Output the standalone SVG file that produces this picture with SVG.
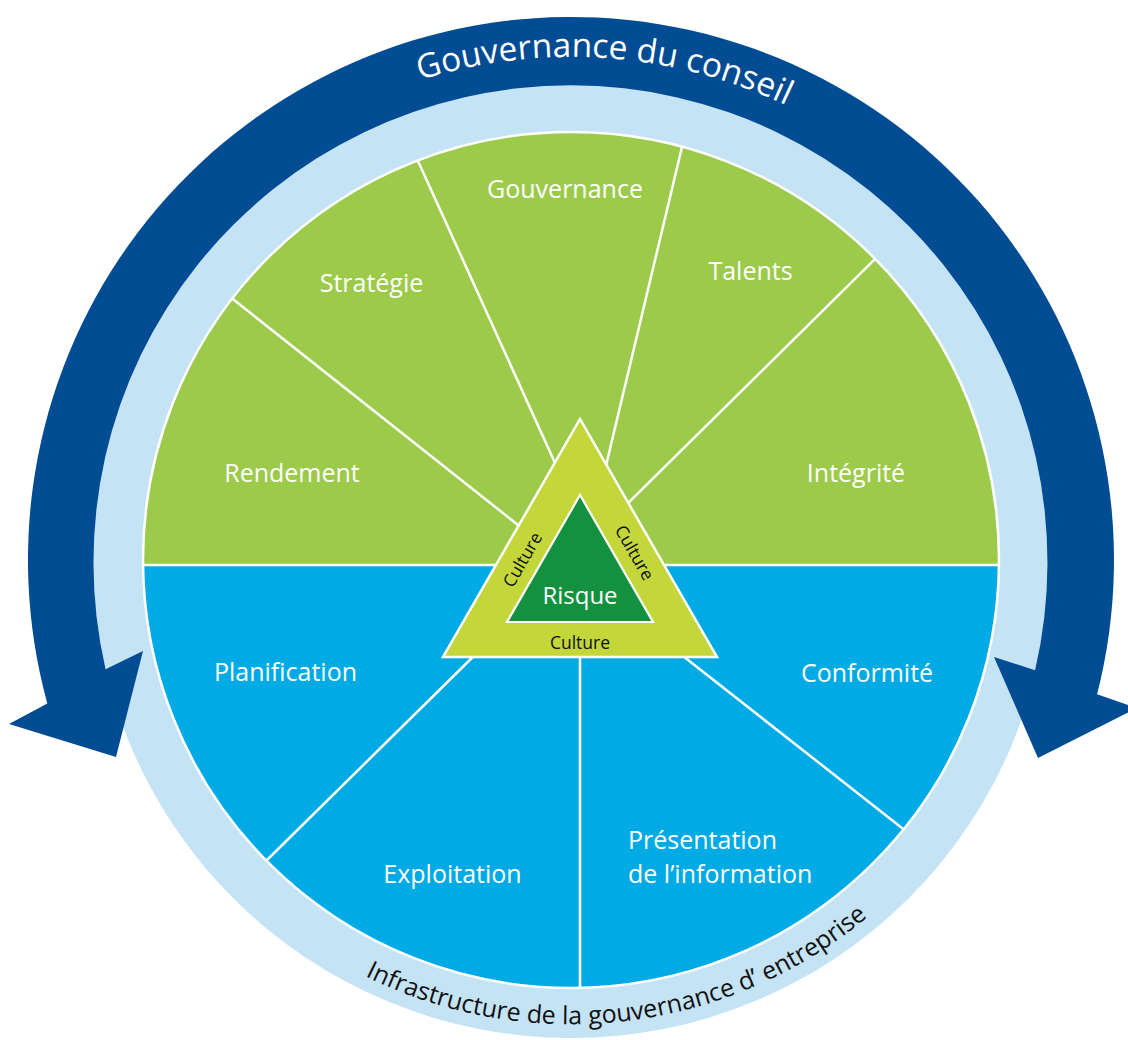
<svg xmlns="http://www.w3.org/2000/svg" xmlns:xlink="http://www.w3.org/1999/xlink" width="1128" height="1040" viewBox="0 0 1128 1040">
  <style>
    .sans { font-family: "Open Sans", "Noto Sans", "DejaVu Sans", sans-serif; }
    .lbl { font-size: 25px; fill: #ffffff; text-anchor: middle; }
    .lbl-left { font-size: 25px; fill: #ffffff; text-anchor: start; }
    .culture { font-size: 17.5px; fill: #111111; text-anchor: middle; }
    .risk { font-size: 24px; fill: #ffffff; text-anchor: middle; }
    .arc-top { font-size: 33.5px; fill: #ffffff; }
    .arc-bottom { font-size: 25px; fill: #111111; }
    .divider { stroke: #ffffff; stroke-width: 2.5; fill: none; }
    .green { fill: #9cca4b; }
    .blue { fill: #00aae5; }
  </style>
  <defs>
    <clipPath id="disc">
      <circle cx="571" cy="560" r="428"/>
    </clipPath>
    <!-- baselines for the curved titles -->
    <path id="arcTop" d="M 74.1 481.75 A 503 503 0 0 1 1073.9 550.8"/>
    <path id="arcBottom" d="M 116.6 654.1 A 464 464 0 0 0 1034.8 546.2"/>
  </defs>

  <rect width="1128" height="1040" fill="#ffffff"/>

  <!-- outer light ring: enterprise governance infrastructure -->
  <g id="infrastructure">
    <circle cx="571" cy="560" r="478" fill="#c4e3f5"/>
    <text class="sans arc-bottom"><textPath xlink:href="#arcBottom" href="#arcBottom" startOffset="50%" text-anchor="middle">Infrastructure de la gouvernance d’ entreprise</textPath></text>
  </g>

  <!-- board governance arrow -->
  <g id="board">
    <path fill="#014c93" d="M 47.3 703.5 A 543 543 0 1 1 1097.1 694.3 L 1137 708 L 1038 758 L 994 657 L 1035.1 670.2 A 477 477 0 1 0 105.6 669.2 L 143 651 L 116 757 L 9 724 Z"/>
    <text class="sans arc-top"><textPath xlink:href="#arcTop" href="#arcTop" startOffset="50%" text-anchor="middle">Gouvernance du conseil</textPath></text>
  </g>

  <!-- wheel halves -->
  <g id="wheel">
    <path class="green" d="M 143.03 565 A 428 428 0 1 1 998.97 565 Z"/>
    <path class="blue" d="M 998.97 565 A 428 428 0 0 1 143.03 565 Z"/>
  </g>

  <!-- divider lines between segments -->
  <g id="connectors" clip-path="url(#disc)">
    <line class="divider" x1="130" y1="565" x2="1012" y2="565"/>
    <line class="divider" x1="226.2" y1="293.8" x2="530" y2="534.5"/>
    <line class="divider" x1="413.9" y1="151.9" x2="560" y2="474"/>
    <line class="divider" x1="684.3" y1="137.3" x2="604" y2="474"/>
    <line class="divider" x1="881.1" y1="253" x2="620" y2="511"/>
    <line class="divider" x1="261.9" y1="865" x2="483" y2="647"/>
    <line class="divider" x1="580" y1="1000" x2="580" y2="648"/>
    <line class="divider" x1="909.9" y1="834.2" x2="674" y2="649"/>
  </g>
  <circle cx="571" cy="560" r="428" fill="none" stroke="#ffffff" stroke-width="2.5"/>

  <!-- segment nodes -->
  <g id="node-rendement"><text class="sans lbl" x="292" y="482">Rendement</text></g>
  <g id="node-strategie"><text class="sans lbl" x="371.5" y="292">Stratégie</text></g>
  <g id="node-gouvernance"><text class="sans lbl" x="565" y="198">Gouvernance</text></g>
  <g id="node-talents"><text class="sans lbl" x="750.5" y="280">Talents</text></g>
  <g id="node-integrite"><text class="sans lbl" x="856" y="482">Intégrité</text></g>
  <g id="node-planification"><text class="sans lbl" x="285.5" y="681">Planification</text></g>
  <g id="node-exploitation"><text class="sans lbl" x="452.5" y="883">Exploitation</text></g>
  <g id="node-presentation">
    <text class="sans lbl-left" x="628" y="849">Présentation</text>
    <text class="sans lbl-left" x="628" y="883">de l’information</text>
  </g>
  <g id="node-conformite"><text class="sans lbl" x="867" y="682">Conformité</text></g>

  <!-- central culture / risk triangle -->
  <g id="node-culture">
    <polygon points="580,419 443,657 717,657" fill="#c4d73a" stroke="#ffffff" stroke-width="2.5" stroke-linejoin="miter"/>
    <text class="sans culture" x="580" y="649">Culture</text>
    <text class="sans culture" transform="translate(523 560) rotate(-60)" x="0" y="5.5">Culture</text>
    <text class="sans culture" transform="translate(634 553) rotate(60)" x="0" y="5.5">Culture</text>
  </g>
  <g id="node-risque">
    <polygon points="580,495 507,622 653,622" fill="#14913f" stroke="#ffffff" stroke-width="2.2"/>
    <text class="sans risk" x="580" y="604">Risque</text>
  </g>
</svg>
